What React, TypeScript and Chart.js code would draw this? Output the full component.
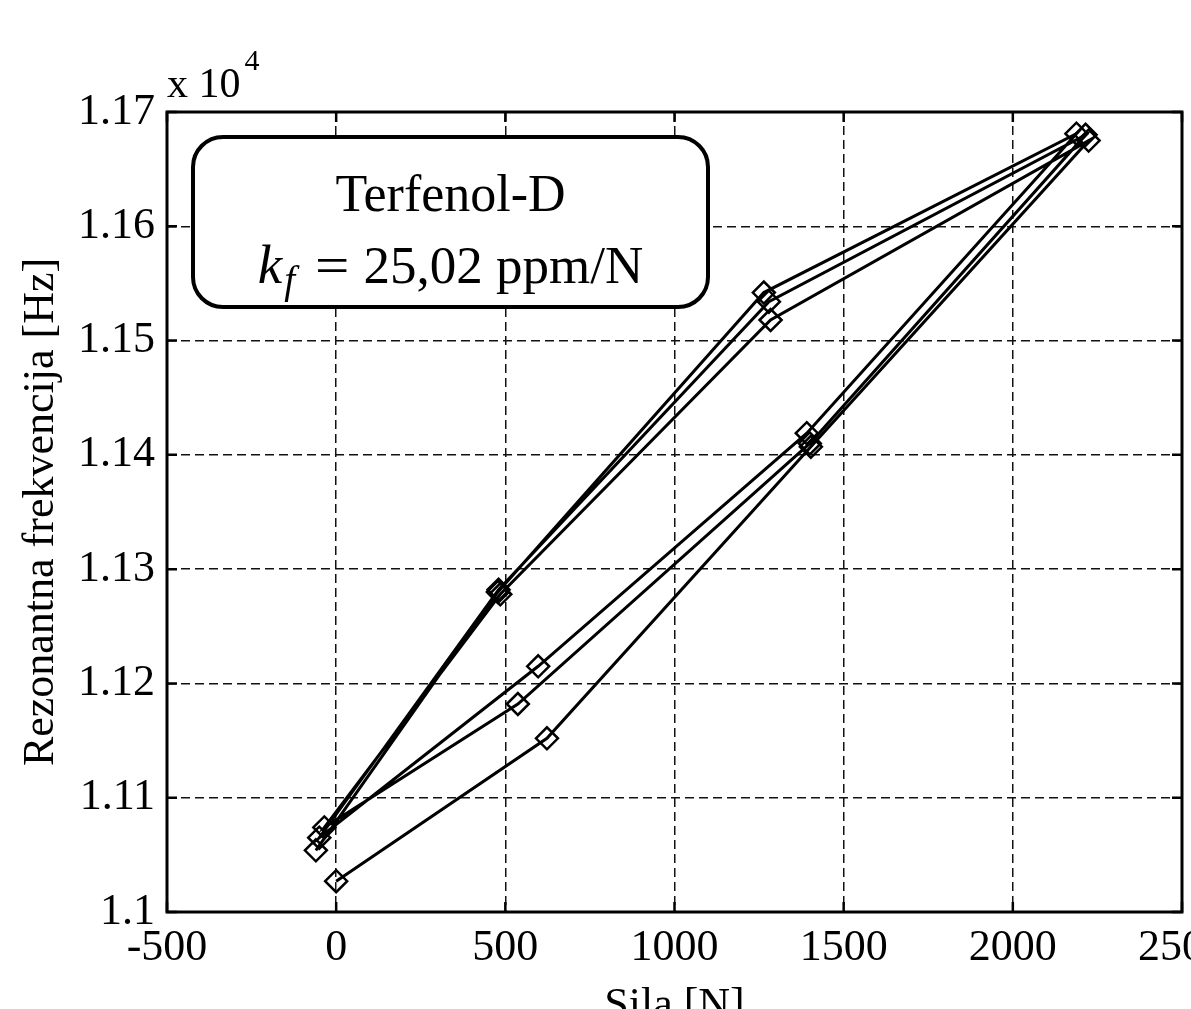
import React, { useEffect, useRef } from 'react';
import { Chart, registerables } from 'chart.js';

Chart.register(...registerables);

// ---- data (force in N, resonant frequency in Hz) ----
const forceN = [0, 623, 1403, 2224, 1284, 485, -35, 537, 1400, 2215, 1279, 480, -50, 597, 1391, 2188, 1264, 478, -60];
const freqHz = [11027, 11152, 11407, 11675, 11518, 11278, 11074, 11182, 11410, 11680, 11534, 11282, 11065, 11215, 11419, 11681, 11542, 11280, 11054];

const xMin = -500;
const xMax = 2500;
const xStep = 500;
const yMin = 11000;
const yMax = 11700;
const yStep = 100;

const xTitle = 'Sila [N]';
const yTitle = 'Rezonantna frekvencija [Hz]';
const exponentBase = 'x 10';
const exponentPower = '4';
const boxLine1 = 'Terfenol-D';
const boxSymbol = 'k';
const boxSubscript = 'f';
const boxEquals = '=';
const boxLine2 = '25,02 ppm/N';

const W = 1300;
const H = 1100;
const SERIF = '"Liberation Serif", "Times New Roman", serif';

const framePlugin = {
  id: 'matlabFrame',
  afterDraw(chart: any) {
    const { ctx, chartArea, scales } = chart;
    const { left, right, top, bottom } = chartArea;
    ctx.save();
    ctx.strokeStyle = '#000';
    ctx.fillStyle = '#000';
    // inward tick marks
    ctx.lineWidth = 2.5;
    const tl = 10;
    scales.x.ticks.forEach((t: any) => {
      const px = scales.x.getPixelForValue(t.value);
      ctx.beginPath();
      ctx.moveTo(px, bottom);
      ctx.lineTo(px, bottom - tl);
      ctx.moveTo(px, top);
      ctx.lineTo(px, top + tl);
      ctx.stroke();
    });
    scales.y.ticks.forEach((t: any) => {
      const py = scales.y.getPixelForValue(t.value);
      ctx.beginPath();
      ctx.moveTo(left, py);
      ctx.lineTo(left + tl, py);
      ctx.moveTo(right, py);
      ctx.lineTo(right - tl, py);
      ctx.stroke();
    });
    // frame
    ctx.lineWidth = 3;
    ctx.strokeRect(left, top, right - left, bottom - top);

    // exponent label
    ctx.textAlign = 'left';
    ctx.textBaseline = 'alphabetic';
    ctx.font = `42px ${SERIF}`;
    ctx.fillText(exponentBase, left, top - 15);
    const bw = ctx.measureText(exponentBase).width;
    ctx.font = `30px ${SERIF}`;
    ctx.fillText(exponentPower, left + bw + 4, top - 42);

    // annotation box
    const bx = 193, by = 137, bwid = 515, bh = 170;
    ctx.beginPath();
    ctx.roundRect(bx, by, bwid, bh, 30);
    ctx.fillStyle = '#fff';
    ctx.fill();
    ctx.lineWidth = 4;
    ctx.strokeStyle = '#000';
    ctx.stroke();
    ctx.fillStyle = '#000';
    const cx = bx + bwid / 2;
    ctx.textAlign = 'center';
    ctx.font = `52px ${SERIF}`;
    ctx.fillText(boxLine1, cx, 211);
    // second line
    ctx.textAlign = 'left';
    ctx.font = `italic 55px ${SERIF}`;
    const wk = ctx.measureText(boxSymbol).width;
    ctx.font = `italic 39px ${SERIF}`;
    const wf = ctx.measureText(boxSubscript).width;
    ctx.font = `53px ${SERIF}`;
    const we = ctx.measureText(boxEquals).width * 1.15;
    const wr = ctx.measureText(boxLine2).width;
    const gap1 = 20;
    const gap2 = 14;
    const total = wk + 2 + wf + gap1 + we + gap2 + wr;
    let x0 = cx - total / 2;
    const base2 = 283;
    ctx.font = `italic 55px ${SERIF}`;
    ctx.fillText(boxSymbol, x0, base2);
    x0 += wk + 2;
    ctx.font = `italic 39px ${SERIF}`;
    ctx.fillText(boxSubscript, x0, base2 + 10);
    x0 += wf + gap1;
    ctx.font = `53px ${SERIF}`;
    ctx.save();
    ctx.translate(x0, base2);
    ctx.scale(1.15, 1);
    ctx.fillText(boxEquals, 0, 0);
    ctx.restore();
    x0 += we + gap2;
    ctx.fillText(boxLine2, x0, base2);
    ctx.restore();
  },
};

export default function App() {
  const ref = useRef<HTMLCanvasElement | null>(null);
  useEffect(() => {
    if (!ref.current) return;
    const points = forceN.map((f, i) => ({ x: f, y: freqHz[i] }));
    const chart = new Chart(ref.current, {
      type: 'line',
      data: {
        datasets: [
          {
            data: points,
            borderColor: '#000',
            borderWidth: 3,
            tension: 0,
            fill: false,
            pointStyle: 'rectRot',
            pointRadius: 11,
            pointBorderWidth: 2.5,
            pointBorderColor: '#000',
            pointBackgroundColor: 'rgba(0,0,0,0)',
          },
        ],
      },
      options: {
        responsive: false,
        animation: false,
        devicePixelRatio: 1,
        layout: { padding: { top: 112, right: W - 1182, left: 0, bottom: 0 } },
        plugins: { legend: { display: false }, tooltip: { enabled: false } },
        scales: {
          x: {
            type: 'linear',
            position: 'bottom',
            min: xMin,
            max: xMax,
            ticks: {
              stepSize: xStep,
              autoSkip: false,
              maxRotation: 0,
              padding: 10,
              color: '#000',
              font: { family: SERIF, size: 44 },
              callback: (v: any) => String(v),
            },
            grid: { color: '#111', lineWidth: 1.5, drawTicks: false },
            border: { display: false, dash: [9, 5] },
            title: {
              display: true,
              text: xTitle,
              color: '#000',
              font: { family: SERIF, size: 44 },
              padding: { top: 0, bottom: 67 },
            },
            afterFit: (s: any) => {
              s.height = H - 912;
            },
          },
          y: {
            type: 'linear',
            min: yMin,
            max: yMax,
            ticks: {
              stepSize: yStep,
              autoSkip: false,
              padding: 12,
              color: '#000',
              font: { family: SERIF, size: 44 },
              callback: (v: any) => String(parseFloat((v / 10000).toFixed(2))),
            },
            grid: { color: '#111', lineWidth: 1.5, drawTicks: false },
            border: { display: false, dash: [9, 5] },
            title: {
              display: true,
              text: yTitle,
              color: '#000',
              font: { family: SERIF, size: 44 },
              padding: { top: 15, bottom: 0 },
            },
            afterFit: (s: any) => {
              s.width = 167;
            },
          },
        },
      },
      plugins: [framePlugin],
    } as any);
    return () => chart.destroy();
  }, []);
  return (
    <div style={{ position: 'fixed', left: 0, top: 0, width: 1191, height: 1009, overflow: 'hidden', background: '#fff' }}>
      <canvas ref={ref} width={W} height={H} style={{ display: 'block', width: W, height: H }} />
    </div>
  );
}
